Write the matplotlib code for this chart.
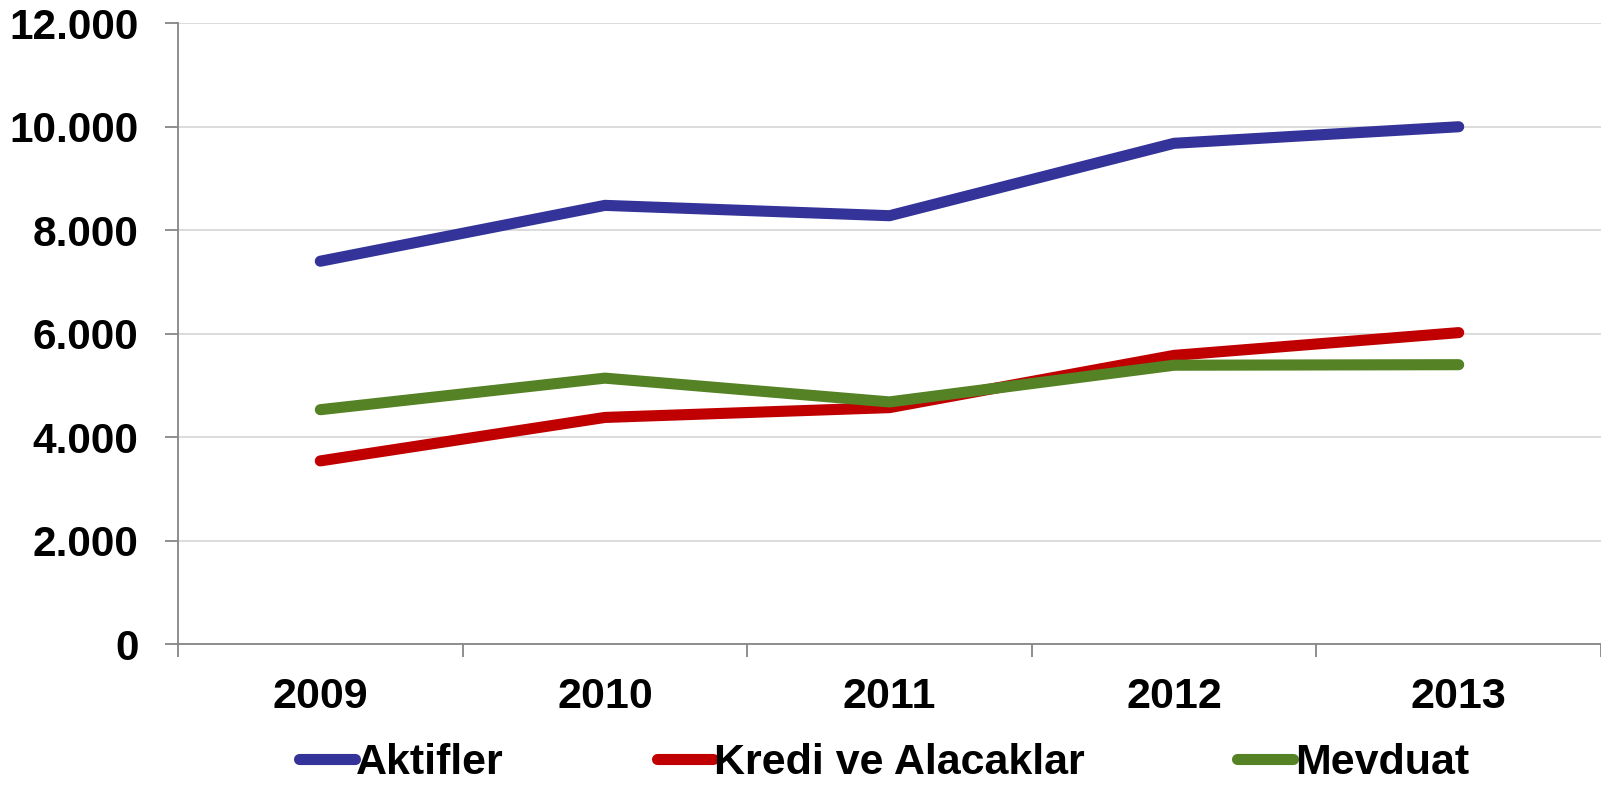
import matplotlib

matplotlib.use("Agg")
import matplotlib.pyplot as plt
from matplotlib.ticker import FixedLocator, FuncFormatter

# ── Data ──────────────────────────────────────────────────────────────
years = ["2009", "2010", "2011", "2012", "2013"]
aktifler = [7400, 8480, 8280, 9680, 10000]
kredi = [3540, 4380, 4570, 5580, 6020]
mevduat = [4530, 5140, 4680, 5390, 5400]

series = [
    ("Aktifler", aktifler, "#333399"),
    ("Kredi ve Alacaklar", kredi, "#C00000"),
    ("Mevduat", mevduat, "#548225"),
]

plt.rcParams["font.family"] = ["Liberation Sans", "DejaVu Sans"]
plt.rcParams["font.weight"] = "bold"

fig = plt.figure(figsize=(16.01, 7.89), dpi=100)
ax = fig.add_axes([178 / 1601, 145 / 789, 1 - 178 / 1601, (644 - 23.3) / 789])

x = list(range(len(years)))
for name, vals, color in series:
    ax.plot(x, vals, color=color, linewidth=8, solid_capstyle="round",
            label=name, zorder=3)

ax.set_xlim(-0.5, len(years) - 0.5)
ax.set_ylim(0, 12000)

# y axis
ax.set_yticks(range(0, 12001, 2000))
ax.yaxis.set_major_formatter(FuncFormatter(lambda v, _: f"{int(v):,}".replace(",", ".")))
ax.tick_params(axis="y", length=9.4, width=1.3, color="#868686",
               labelsize=30.5, pad=19)
ax.grid(axis="y", color="#D9D9D9", linewidth=1.3, zorder=0)

# x axis: labels at centres, ticks at category boundaries
ax.set_xticks(x)
ax.set_xticklabels(years)
ax.xaxis.set_minor_locator(FixedLocator([i - 0.5 for i in range(len(years) + 1)]))
ax.tick_params(axis="x", which="major", length=0, labelsize=31, pad=24)
ax.tick_params(axis="x", which="minor", length=9, width=1.3, color="#868686")

for side in ("top", "right"):
    ax.spines[side].set_visible(False)
for side in ("left", "bottom"):
    ax.spines[side].set_color("#868686")
    ax.spines[side].set_linewidth(1.3)

fig.legend(loc="center", bbox_to_anchor=(0.552, 1 - 763.5 / 789), ncol=3,
           frameon=False, fontsize=31, handlelength=1.3, handletextpad=0.03,
           columnspacing=3.55, borderaxespad=0)

fig.savefig("out.png", dpi=100)
